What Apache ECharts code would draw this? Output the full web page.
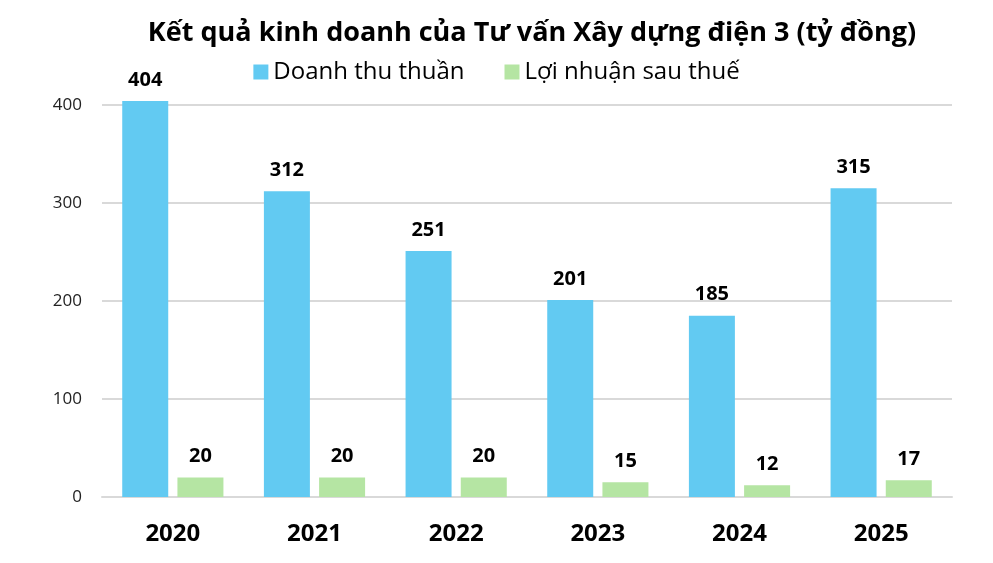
<!DOCTYPE html>
<html>
<head>
<meta charset="utf-8">
<script src="https://cdn.jsdelivr.net/npm/echarts@6/dist/echarts.min.js"></script>
<style>
  html, body { margin: 0; padding: 0; background: #fff; }
  #chart { width: 993px; height: 563px; }
</style>
</head>
<body>
<div id="chart"></div>
<script>
const years = ['2020', '2021', '2022', '2023', '2024', '2025'];
const revenue = [404, 312, 251, 201, 185, 315];
const profit = [20, 20, 20, 15, 12, 17];
const yTicks = [0, 100, 200, 300, 400];

const font = '"Open Sans", "Noto Sans", sans-serif';

const chart = echarts.init(document.getElementById('chart'));

const labelStyle = {
    show: true,
    position: 'top',
    distance: 11,
    color: '#000',
    fontWeight: 'bold',
    fontSize: 20,
    fontFamily: font
};

chart.setOption({
    animation: false,
    title: {
        text: 'Kết quả kinh doanh của Tư vấn Xây dựng điện 3 (tỷ đồng)',
        left: 527,
        top: 15,
        textAlign: 'center',
        textStyle: { fontSize: 27, fontWeight: 'bold', color: '#000', fontFamily: font }
    },
    legend: {
        data: ['Doanh thu thuần', 'Lợi nhuận sau thuế'],
        left: 'center',
        top: 55,
        itemWidth: 15,
        itemHeight: 15,
        itemGap: 40,
        icon: 'rect',
        textStyle: { fontSize: 24, color: '#000', fontFamily: font }
    },
    grid: { left: 102, right: 41, top: 105, bottom: 66 },
    xAxis: {
        type: 'category',
        data: years,
        axisLine: { lineStyle: { color: '#d9d9d9', width: 2 } },
        axisTick: { show: false },
        axisLabel: { margin: 25, fontSize: 24, fontWeight: 'bold', color: '#000', fontFamily: font }
    },
    yAxis: {
        type: 'value',
        min: yTicks[0],
        max: yTicks[yTicks.length - 1],
        interval: 100,
        axisLine: { show: false },
        axisTick: { show: false },
        splitLine: { lineStyle: { color: '#d9d9d9', width: 2 } },
        axisLabel: { margin: 20, fontSize: 17, color: '#222', fontFamily: font }
    },
    series: [
        {
            name: 'Doanh thu thuần',
            type: 'bar',
            data: revenue,
            clip: false,
            barWidth: 46,
            barGap: '20%',
            itemStyle: { color: '#62caf2' },
            label: labelStyle
        },
        {
            name: 'Lợi nhuận sau thuế',
            type: 'bar',
            data: profit,
            clip: false,
            barWidth: 46,
            itemStyle: { color: '#b5e5a3' },
            label: labelStyle
        }
    ]
});
</script>
</body>
</html>
